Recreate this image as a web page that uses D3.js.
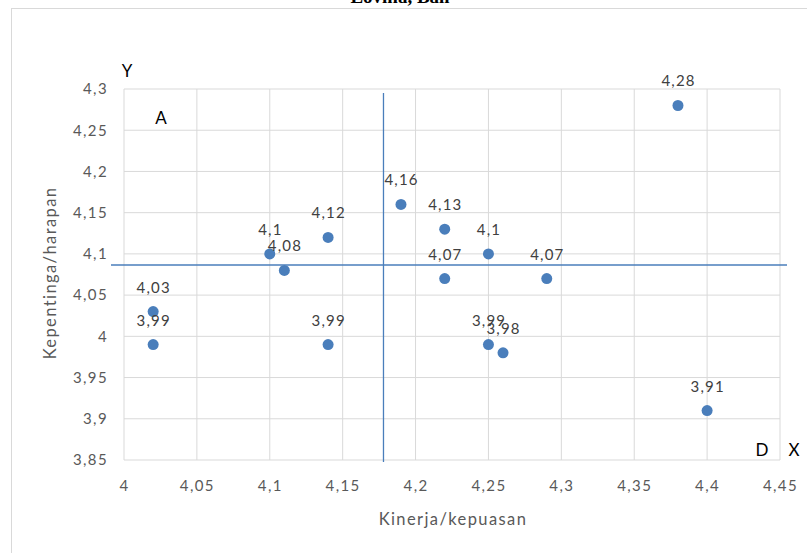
<!DOCTYPE html>
<html>
<head>
<meta charset="utf-8">
<script src="https://cdn.jsdelivr.net/npm/d3@7"></script>
<style>
  body { margin: 0; background: #fff; }
  text { font-family: Lato, "Open Sans", sans-serif; }
</style>
</head>
<body>
<svg id="main_svg" width="807" height="553"></svg>
<script>
// kinerja (x) vs kepentingan (y)
const kinerja    = [4.02, 4.02, 4.10, 4.11, 4.14, 4.14, 4.19, 4.22, 4.22, 4.25, 4.25, 4.26, 4.29, 4.38, 4.40];
const kepentingan = [4.03, 3.99, 4.10, 4.08, 4.12, 3.99, 4.16, 4.13, 4.07, 4.10, 3.99, 3.98, 4.07, 4.28, 3.91];
const xTicks = [4, 4.05, 4.1, 4.15, 4.2, 4.25, 4.3, 4.35, 4.4, 4.45];
const yTicks = [3.85, 3.9, 3.95, 4, 4.05, 4.1, 4.15, 4.2, 4.25, 4.3];
const meanX = 4.178;
const meanY = 4.0865;

const svg = d3.select('#main_svg');
const plot = {left: 124, right: 780, top: 89, bottom: 460};
const x = d3.scaleLinear().domain([4, 4.45]).range([plot.left, plot.right]);
const y = d3.scaleLinear().domain([3.85, 4.3]).range([plot.bottom, plot.top]);
const fmt = v => String(+v.toFixed(2)).replace('.', ',');
const gray = "#595959";
const blue = "#4a7ebb";

// chart border (partly cropped)
svg.append("rect").attr("x", 11.5).attr("y", 8.5).attr("width", 830).attr("height", 600)
  .attr("fill", "none").attr("stroke", "#d9d9d9");

// title, mostly cut off at the top
svg.append("text").attr("x", 400).attr("y", 3).attr("text-anchor", "middle")
  .style("font-family", "'Liberation Serif', serif").attr("font-weight", "bold").attr("font-size", 19)
  .text("Lovina, Bali");

// grid
svg.append("g").selectAll("line").data(xTicks).enter().append("line")
  .attr("x1", d => x(d)).attr("x2", d => x(d)).attr("y1", plot.top).attr("y2", plot.bottom)
  .attr("stroke", "#d9d9d9");
svg.append("g").selectAll("line").data(yTicks).enter().append("line")
  .attr("x1", plot.left).attr("x2", plot.right).attr("y1", d => y(d)).attr("y2", d => y(d))
  .attr("stroke", "#d9d9d9");

// tick labels
const xAxis = svg.append("g").attr("transform", "translate(0," + plot.bottom + ")")
  .call(d3.axisBottom(x).tickValues(xTicks).tickFormat(fmt).tickSize(0).tickPadding(20));
const yAxis = svg.append("g").attr("transform", "translate(" + plot.left + ",0)")
  .call(d3.axisLeft(y).tickValues(yTicks).tickFormat(fmt).tickSize(0).tickPadding(16));
[xAxis, yAxis].forEach(g => {
  g.select(".domain").remove();
  g.selectAll("text").attr("fill", gray).attr("font-size", 15).attr("letter-spacing", 1.4)
    .style("font-family", "Lato, sans-serif");
});

// quadrant lines
svg.append("line").attr("x1", x(meanX)).attr("x2", x(meanX)).attr("y1", 93).attr("y2", 462)
  .attr("stroke", blue).attr("stroke-width", 1.3);
svg.append("line").attr("x1", 111).attr("x2", 787).attr("y1", y(meanY)).attr("y2", y(meanY))
  .attr("stroke", blue).attr("stroke-width", 1.3);

// points and labels
const pts = kinerja.map((k, i) => ({x: k, y: kepentingan[i]}));
svg.append("g").selectAll("circle").data(pts).enter().append("circle")
  .attr("cx", d => x(d.x)).attr("cy", d => y(d.y)).attr("r", 5.5).attr("fill", blue);
svg.append("g").selectAll("text").data(pts).enter().append("text")
  .attr("x", d => x(d.x) + 0.6).attr("y", d => y(d.y) - 19).attr("text-anchor", "middle")
  .attr("fill", "#404040").attr("font-size", 15).attr("letter-spacing", 1.2).text(d => fmt(d.y));

// quadrant letters
const letters = [{t: "Y", x: 127, y: 77}, {t: "A", x: 161, y: 124}, {t: "D", x: 762, y: 456}, {t: "X", x: 794, y: 456}];
svg.append("g").selectAll("text").data(letters).enter().append("text")
  .attr("x", d => d.x).attr("y", d => d.y).attr("text-anchor", "middle")
  .attr("fill", "#000").attr("font-size", 17).text(d => d.t);

// axis titles
svg.append("text").attr("x", 453).attr("y", 525).attr("text-anchor", "middle")
  .attr("fill", gray).attr("font-size", 16.5).attr("letter-spacing", 1.4).text("Kinerja/kepuasan");
svg.append("text").attr("transform", "translate(56,273) rotate(-90)").attr("text-anchor", "middle")
  .attr("fill", gray).attr("font-size", 16.5).attr("letter-spacing", 1.4).text("Kepentinga/harapan");
</script>
</body>
</html>
